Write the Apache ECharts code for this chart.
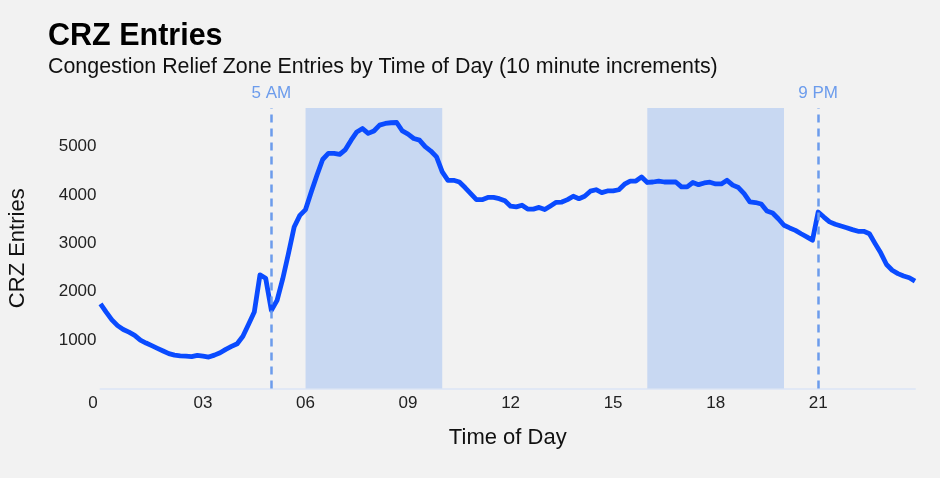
<!DOCTYPE html>
<html>
<head>
<meta charset="utf-8">
<title>CRZ Entries</title>
<script src="https://cdn.jsdelivr.net/npm/echarts@6/dist/echarts.min.js"></script>
<style>
    html, body { margin: 0; padding: 0; background: #f2f2f2; }
    #crz { width: 940px; height: 478px; }
</style>
</head>
<body>
<div id="crz"></div>
<script>
    // entries per 10 minute slot, 00:00 .. 23:50
    var entries = [
        1750, 1580, 1420, 1300, 1220, 1165, 1100, 1000, 940, 885, 830, 775,
        720, 690, 675, 670, 660, 685, 670, 650, 690, 740, 810, 870,
        925, 1080, 1330, 1580, 2350, 2280, 1615, 1822, 2270, 2790, 3340, 3580,
        3700, 4065, 4410, 4735, 4860, 4860, 4840, 4940, 5135, 5305, 5375, 5275,
        5325, 5445, 5480, 5495, 5500, 5325, 5260, 5170, 5135, 5000, 4910, 4790,
        4480, 4305, 4305, 4270, 4155, 4030, 3905, 3905, 3950, 3950, 3925, 3880,
        3770, 3755, 3790, 3710, 3710, 3745, 3700, 3775, 3850, 3855, 3905, 3975,
        3925, 3975, 4080, 4110, 4050, 4085, 4085, 4110, 4225, 4290, 4290, 4375,
        4260, 4270, 4290, 4270, 4270, 4270, 4170, 4170, 4260, 4215, 4250, 4265,
        4230, 4230, 4305, 4205, 4155, 4030, 3860, 3845, 3815, 3670, 3630, 3510,
        3375, 3320, 3270, 3200, 3135, 3065, 3650, 3545, 3445, 3395, 3360, 3325,
        3285, 3250, 3250, 3200, 2995, 2800, 2565, 2445, 2375, 2325, 2290, 2220
    ];
    // shaded peak windows
    var peakWindows = [['06:00', '10:00'], ['16:00', '20:00']];
    // dashed markers
    var markers = [['05:00', '5 AM'], ['21:00', '9 PM']];

    function pad(n) {
        return (n < 10 ? '0' : '') + n;
    }

    var times = [];
    for (var h = 0; h < 24; h++) {
        for (var m = 0; m < 60; m += 10) {
            times.push(pad(h) + ':' + pad(m));
        }
    }

    var font = 'Liberation Sans, Arial, Helvetica, sans-serif';
    var markColor = '#6c9cec';

    var chart = echarts.init(document.getElementById('crz'));
    var option = {
        backgroundColor: '#f2f2f2',
        textStyle: {fontFamily: font},
        animation: false,
        title: {
            text: 'CRZ Entries',
            subtext: 'Congestion Relief Zone Entries by Time of Day (10 minute increments)',
            left: 48,
            top: 21,
            padding: 0,
            itemGap: 5,
            textStyle: {fontFamily: font, fontSize: 30.5, fontWeight: 'bold', color: '#000'},
            subtextStyle: {fontFamily: font, fontSize: 21.4, color: '#111'}
        },
        grid: {left: 100.5, right: 25, top: 108, bottom: 89.5, outerBoundsMode: 'none', containLabel: false},
        xAxis: {
            type: 'category',
            data: times,
            boundaryGap: false,
            name: 'Time of Day',
            nameLocation: 'middle',
            nameGap: 38,
            nameTextStyle: {fontSize: 22, color: '#111'},
            axisLine: {lineStyle: {color: '#e1e8f5', width: 2}},
            axisTick: {show: false},
            axisLabel: {
                interval: function (index) {
                    return index % 18 === 0;
                },
                margin: 6,
                fontSize: 17,
                color: '#222',
                formatter: function (value) {
                    var hh = value.slice(0, 2);
                    return hh === '00' ? '{z|0}' : hh;
                },
                rich: {
                    z: {fontSize: 17, color: '#222', padding: [0, 15, 0, 0]}
                }
            },
            splitLine: {show: false}
        },
        yAxis: {
            type: 'value',
            min: 0,
            max: 5800,
            interval: 1000,
            name: 'CRZ Entries',
            nameLocation: 'middle',
            nameGap: 72,
            nameTextStyle: {fontSize: 22, color: '#111'},
            axisLine: {show: false},
            axisTick: {show: false},
            axisLabel: {
                margin: 4,
                fontSize: 17,
                color: '#222',
                showMinLabel: false,
                showMaxLabel: false,
                formatter: function (v) {
                    return String(v);
                }
            },
            splitLine: {show: false}
        },
        series: [{
            // shading only
            type: 'line',
            data: [],
            z: 1,
            markArea: {
                silent: true,
                itemStyle: {color: '#c8d8f2'},
                data: peakWindows.map(function (w) {
                    return [{xAxis: w[0]}, {xAxis: w[1]}];
                })
            }
        }, {
            name: 'CRZ Entries',
            type: 'line',
            data: entries,
            z: 3,
            symbol: 'none',
            lineStyle: {color: '#0a4bff', width: 4.8, join: 'round'},
            itemStyle: {color: '#0a4bff'}
        }, {
            // dashed 5 AM / 9 PM markers, over the line
            type: 'line',
            data: [],
            z: 5,
            markLine: {
                silent: true,
                symbol: 'none',
                lineStyle: {color: markColor, width: 2.5, type: [8, 6]},
                label: {
                    position: 'end',
                    distance: 6,
                    fontFamily: font,
                    fontSize: 17,
                    color: markColor,
                    formatter: function (p) {
                        return p.name;
                    }
                },
                data: markers.map(function (mk) {
                    return {xAxis: mk[0], name: mk[1]};
                })
            }
        }]
    };
    chart.setOption(option);
</script>
</body>
</html>
